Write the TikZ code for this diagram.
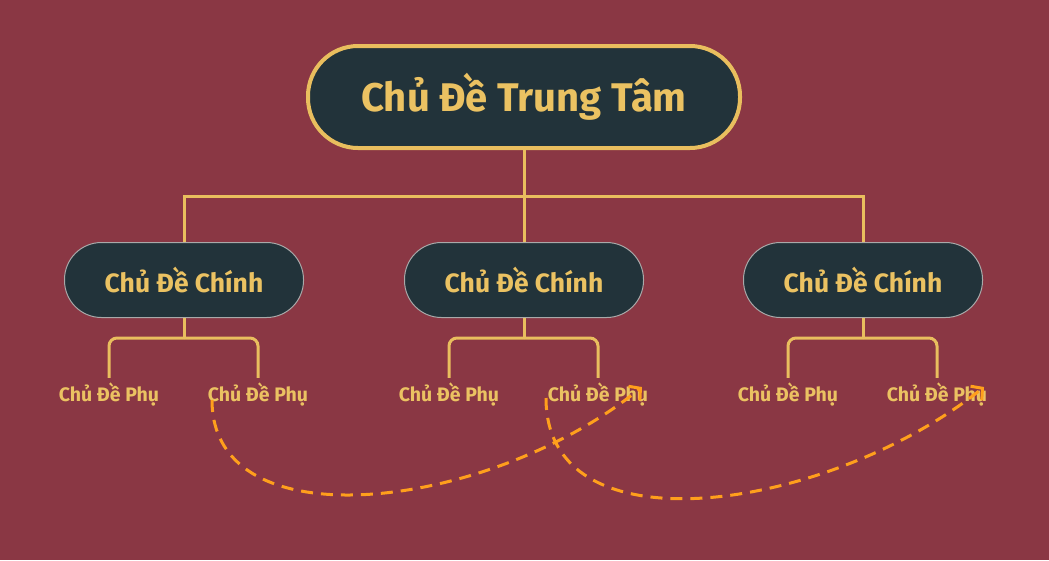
\documentclass[tikz,border=0pt]{standalone}
\usepackage{fontspec}
\setmainfont{Fira Sans}
\usetikzlibrary{arrows.meta,positioning}
\definecolor{bgc}{HTML}{8A3744}
\definecolor{nodefill}{HTML}{22333A}
\definecolor{gold}{HTML}{EBC262}
\definecolor{linegold}{HTML}{E9BE5E}
\definecolor{orangec}{HTML}{FF9F1C}
\definecolor{greyb}{HTML}{A9A9A9}
\tikzset{
  rootbox/.style={draw=linegold, line width=4pt, fill=nodefill, rounded corners=50pt,
    minimum width=432pt, minimum height=102pt, text=gold, font=\bfseries\fontsize{40}{44}\selectfont},
  mainbox/.style={draw=greyb, line width=1pt, fill=nodefill, rounded corners=37pt,
    minimum width=239pt, minimum height=75pt, text=gold, font=\bfseries\fontsize{26.5}{30}\selectfont},
  subtext/.style={text=gold, font=\bfseries\fontsize{19.5}{22}\selectfont, inner sep=0pt, minimum height=32pt},
  conn/.style={draw=linegold, line width=3pt},
  subconn/.style={draw=linegold, line width=3pt, rounded corners=8pt},
  relarrow/.style={draw=orangec, line width=3pt, dash pattern=on 12pt off 8pt,
    -{Straight Barb[length=8pt,width=18pt,line width=3pt]}}
}
\begin{document}
\begin{tikzpicture}[x=1pt,y=-1pt]
\fill[bgc] (0,0) rectangle (1049,560);
\useasboundingbox (0,0) rectangle (1049,560);

\node[rootbox] (root) at (524,97) {Chủ Đề Trung Tâm};

\node[mainbox] (c1) at (184,280) {Chủ Đề Chính};
\node[mainbox] (c2) at (524,280) {Chủ Đề Chính};
\node[mainbox] (c3) at (863,280) {Chủ Đề Chính};

\node[subtext] (s11) at (109,394) {Chủ Đề Phụ};
\node[subtext] (s12) at (258,394) {Chủ Đề Phụ};
\node[subtext] (s21) at (449,394) {Chủ Đề Phụ};
\node[subtext] (s22) at (598,394) {Chủ Đề Phụ};
\node[subtext] (s31) at (788,394) {Chủ Đề Phụ};
\node[subtext] (s32) at (937,394) {Chủ Đề Phụ};

\coordinate (j0) at (524,196);
\draw[conn] (root.south) -- (j0);
\draw[conn] (j0) -| (c1.north);
\draw[conn] (j0) -| (c3.north);
\draw[conn] (j0) -- (c2.north);

\foreach \c/\a/\b in {c1/s11/s12, c2/s21/s22, c3/s31/s32}{
  \draw[conn] (\c.south) -- ++(0,20) coordinate (jj);
  \draw[subconn] (jj) -| (\a.north);
  \draw[subconn] (jj) -| (\b.north);
}

\coordinate (e1) at (642,387);
\coordinate (e2) at (984,387);
\draw[relarrow] ([xshift=-46pt,yshift=-6pt]s12.center) .. controls (212,545) and (490,510) .. (e1);
\draw[relarrow] ([xshift=-52pt,yshift=-4pt]s22.center) .. controls (546,555) and (830,510) .. (e2);
\end{tikzpicture}
\end{document}
